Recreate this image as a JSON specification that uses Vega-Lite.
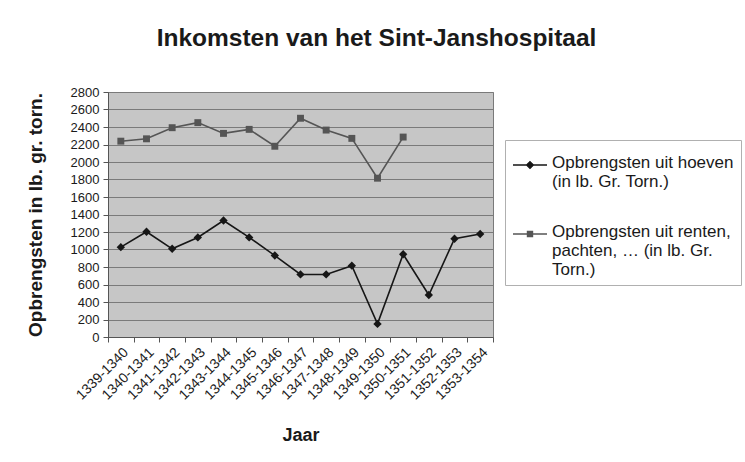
{
  "$schema": "https://vega.github.io/schema/vega-lite/v6.json",
  "width": 385,
  "height": 245,
  "autosize": {"type": "none"},
  "padding": {"left": 108, "top": 92, "right": 252, "bottom": 125},
  "background": "#ffffff",
  "config": {
    "font": "Liberation Sans",
    "view": {"fill": "#c6c6c6", "stroke": "#7a7a7a", "strokeWidth": 1}
  },
  "title": {
    "text": "Inkomsten van het Sint-Janshospitaal",
    "font": "Liberation Sans",
    "fontSize": 24.5,
    "fontWeight": "bold",
    "color": "#1a1a1a",
    "anchor": "middle",
    "dx": 76,
    "offset": 35
  },
  "data": {
    "values": [
      {"jaar": "1339-1340", "reeks": "hoeven", "waarde": 1027},
      {"jaar": "1340-1341", "reeks": "hoeven", "waarde": 1203},
      {"jaar": "1341-1342", "reeks": "hoeven", "waarde": 1008},
      {"jaar": "1342-1343", "reeks": "hoeven", "waarde": 1138},
      {"jaar": "1343-1344", "reeks": "hoeven", "waarde": 1331},
      {"jaar": "1344-1345", "reeks": "hoeven", "waarde": 1138},
      {"jaar": "1345-1346", "reeks": "hoeven", "waarde": 931},
      {"jaar": "1346-1347", "reeks": "hoeven", "waarde": 715},
      {"jaar": "1347-1348", "reeks": "hoeven", "waarde": 715},
      {"jaar": "1348-1349", "reeks": "hoeven", "waarde": 815},
      {"jaar": "1349-1350", "reeks": "hoeven", "waarde": 150},
      {"jaar": "1350-1351", "reeks": "hoeven", "waarde": 946},
      {"jaar": "1351-1352", "reeks": "hoeven", "waarde": 480},
      {"jaar": "1352-1353", "reeks": "hoeven", "waarde": 1123},
      {"jaar": "1353-1354", "reeks": "hoeven", "waarde": 1177},
      {"jaar": "1339-1340", "reeks": "renten", "waarde": 2238},
      {"jaar": "1340-1341", "reeks": "renten", "waarde": 2265},
      {"jaar": "1341-1342", "reeks": "renten", "waarde": 2392},
      {"jaar": "1342-1343", "reeks": "renten", "waarde": 2450},
      {"jaar": "1343-1344", "reeks": "renten", "waarde": 2327},
      {"jaar": "1344-1345", "reeks": "renten", "waarde": 2373},
      {"jaar": "1345-1346", "reeks": "renten", "waarde": 2180},
      {"jaar": "1346-1347", "reeks": "renten", "waarde": 2500},
      {"jaar": "1347-1348", "reeks": "renten", "waarde": 2365},
      {"jaar": "1348-1349", "reeks": "renten", "waarde": 2270},
      {"jaar": "1349-1350", "reeks": "renten", "waarde": 1815},
      {"jaar": "1350-1351", "reeks": "renten", "waarde": 2285}
    ]
  },
  "encoding": {
    "x": {
      "field": "jaar",
      "type": "ordinal",
      "sort": null,
      "bandPosition": 0.5,
      "scale": {"type": "band", "paddingInner": 0, "paddingOuter": 0},
      "axis": {
        "title": "Jaar",
        "titleFont": "Liberation Sans",
        "titleFontSize": 18,
        "titleFontWeight": "bold",
        "titleColor": "#1a1a1a",
        "titlePadding": 24,
        "labelAngle": -45,
        "labelFont": "Liberation Sans",
        "labelFontSize": 14,
        "labelColor": "#1a1a1a",
        "labelPadding": 3,
        "tickBand": "extent",
        "tickSize": 5,
        "tickColor": "#555555",
        "domainColor": "#555555",
        "grid": false
      }
    },
    "y": {
      "field": "waarde",
      "type": "quantitative",
      "scale": {"domain": [0, 2800], "nice": false},
      "axis": {
        "title": "Opbrengsten in lb. gr. torn.",
        "titleFont": "Liberation Sans",
        "titleFontSize": 19,
        "titleFontWeight": "bold",
        "titleColor": "#1a1a1a",
        "titlePadding": 25,
        "values": [0, 200, 400, 600, 800, 1000, 1200, 1400, 1600, 1800, 2000, 2200, 2400, 2600, 2800],
        "format": "d",
        "labelFont": "Liberation Sans",
        "labelFontSize": 13,
        "labelColor": "#1a1a1a",
        "labelPadding": 4,
        "tickSize": 5,
        "tickColor": "#555555",
        "domainColor": "#555555",
        "grid": true,
        "gridColor": "#7a7a7a",
        "gridWidth": 1
      }
    },
    "color": {
      "field": "reeks",
      "type": "nominal",
      "scale": {"domain": ["hoeven", "renten"], "range": ["#161616", "#555555"]},
      "legend": {
        "title": null,
        "orient": "none",
        "legendX": 397,
        "legendY": 48,
        "padding": 7,
        "fillColor": "#ffffff",
        "strokeColor": "#b0b0b0",
        "labelFont": "Liberation Sans",
        "labelFontSize": 17,
        "labelColor": "#1a1a1a",
        "labelLimit": 400,
        "labelBaseline": "top",
        "labelOffset": 4,
        "rowPadding": 26,
        "symbolSize": 1156,
        "symbolType": "M-1,0L1,0M0,-0.2L0.2,0L0,0.2L-0.2,0Z",
        "labelExpr": "datum.value == 'hoeven' ? ['Opbrengsten uit hoeven', '(in lb. Gr. Torn.)'] : ['Opbrengsten uit renten,', 'pachten, … (in lb. Gr.', 'Torn.)']",
        "encode": {
          "symbols": {
            "update": {
              "shape": {"signal": "datum.value == 'hoeven' ? 'M-1,0L1,0M0,-0.2L0.2,0L0,0.2L-0.2,0Z' : 'M-1,0L1,0M-0.15,-0.15L0.15,-0.15L0.15,0.15L-0.15,0.15Z'"},
              "fill": {"signal": "datum.value == 'hoeven' ? '#161616' : '#555555'"},
              "stroke": {"signal": "datum.value == 'hoeven' ? '#161616' : '#555555'"},
              "strokeWidth": {"value": 1.3},
              "opacity": {"value": 1},
              "fillOpacity": {"value": 1}
            }
          },
          "labels": {
            "update": {"dy": {"value": -10}}
          }
        }
      }
    }
  },
  "layer": [
    {
      "mark": {"type": "line", "strokeWidth": 1.6}
    },
    {
      "transform": [{"filter": "datum.reeks == 'hoeven'"}],
      "mark": {"type": "point", "filled": true, "opacity": 1, "shape": "diamond", "size": 70}
    },
    {
      "transform": [{"filter": "datum.reeks == 'renten'"}],
      "mark": {"type": "point", "filled": true, "opacity": 1, "shape": "square", "size": 48}
    }
  ]
}
